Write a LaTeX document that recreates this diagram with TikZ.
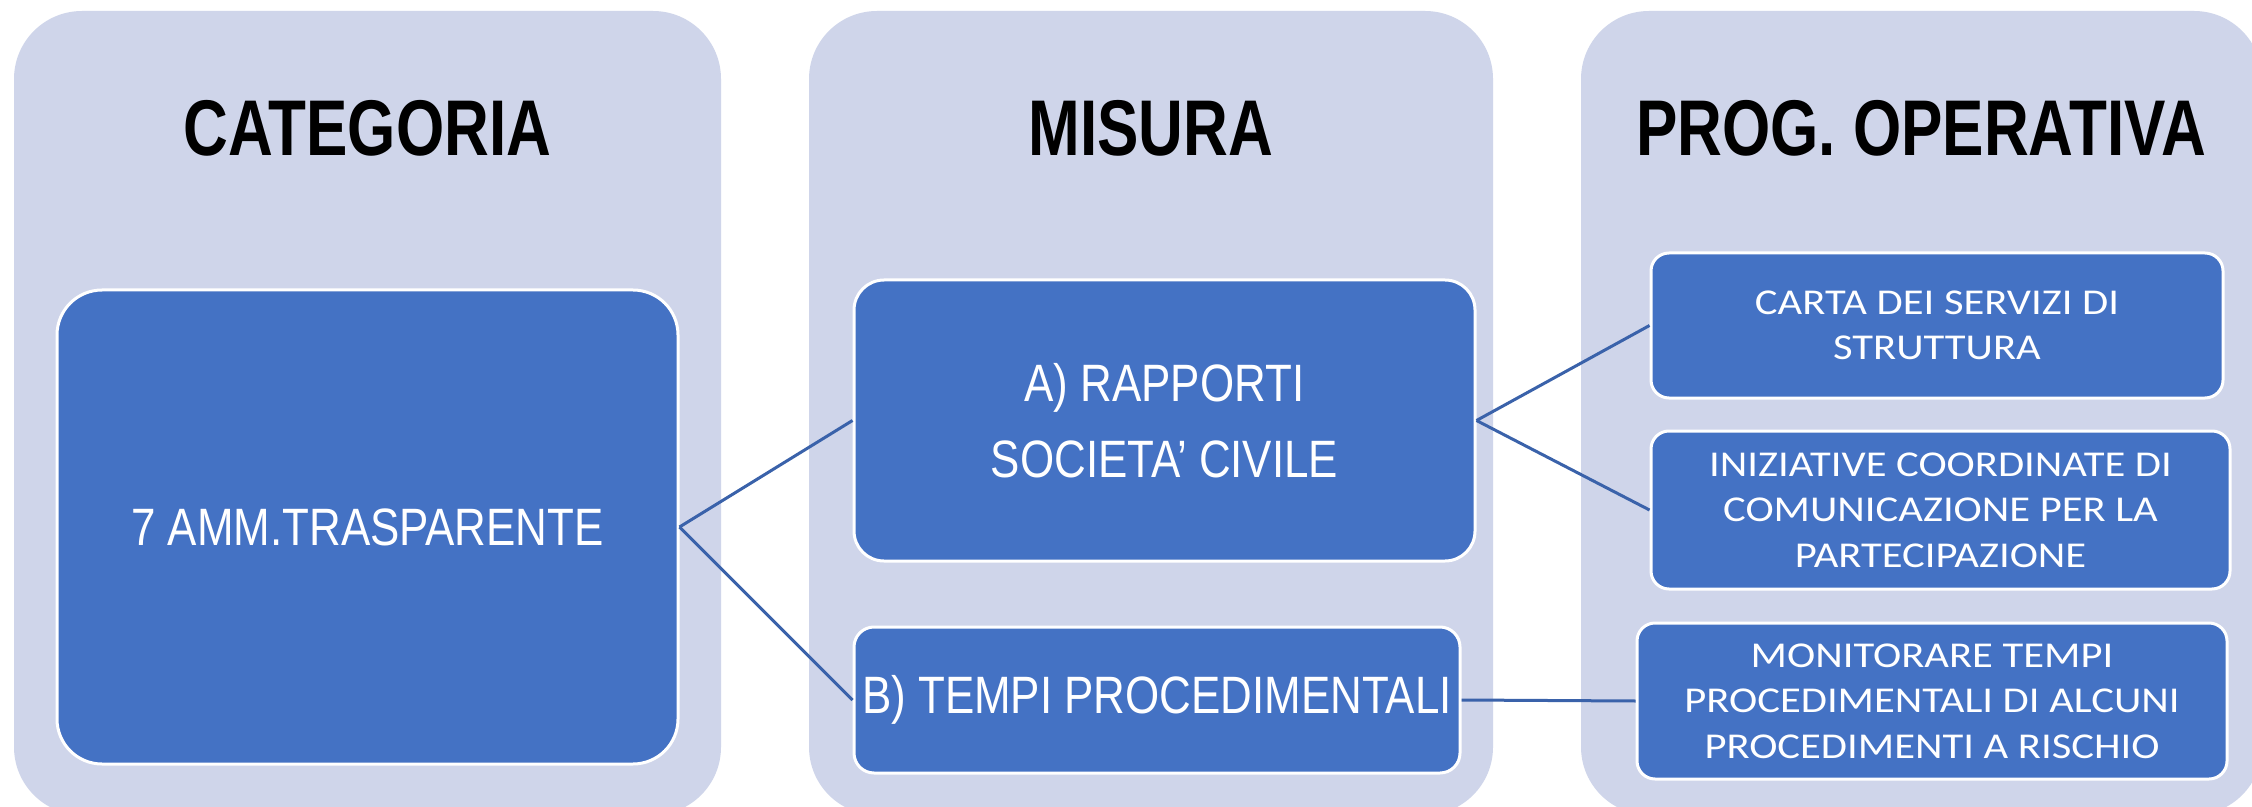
\documentclass[tikz,border=0pt]{standalone}
\usepackage{fontspec}
\setmainfont{Liberation Sans}
\newfontfamily\hdrfont{Liberation Sans}[FakeStretch=0.785]
\newfontfamily\boxfont{Liberation Sans}[FakeStretch=0.835]
\newfontfamily\rightfont{Carlito}[FakeStretch=1.17]
\definecolor{colbg}{HTML}{CFD5EA}
\definecolor{boxblue}{HTML}{4472C4}
\definecolor{linkblue}{HTML}{3A62AA}
\tikzset{
  colbox/.style={fill=colbg, draw=none},
  hdr/.style={inner sep=0pt, text=black, font=\hdrfont\bfseries\fontsize{39.5}{47}\selectfont},
  bluebox/.style={fill=boxblue, draw=white, line width=1.5pt, text=white, align=center, inner sep=0pt},
  midtext/.style={font=\boxfont\fontsize{26.3}{38}\selectfont},
  righttext/.style={font=\rightfont\fontsize{18.2}{22.75}\selectfont},
  link/.style={draw=linkblue, line width=1.5pt}
}
\begin{document}
\begin{tikzpicture}[x=0.5pt, y=-0.5pt]
\clip (0,0) rectangle (2252,807);
\fill[white] (0,0) rectangle (2252,807);
% columns
\path[colbox, rounded corners=34pt] (14,11) rectangle (721,815);
\path[colbox, rounded corners=34pt] (809,11) rectangle (1493,815);
\path[colbox, rounded corners=34pt] (1581,11) rectangle (2262,815);
% headers
\node[hdr] (h1) at (367.5,128.5) {CATEGORIA};
\node[hdr] (h2) at (1151,128.5) {MISURA};
\node[hdr] (h3) at (1921,128.5) {PROG. OPERATIVA};
% boxes
\node[bluebox, midtext, rounded corners=22.5pt, minimum width=310.5pt, minimum height=237pt] (cat) at (367.5,527) {7 AMM.TRASPARENTE};
\node[bluebox, midtext, rounded corners=15pt, minimum width=310.5pt, minimum height=140.5pt] (ma) at (1164.5,420.5) {A) RAPPORTI\\SOCIETA’ CIVILE};
\node[bluebox, midtext, rounded corners=10pt, minimum width=303pt, minimum height=73pt] (mb) at (1157,700) {B) TEMPI PROCEDIMENTALI};
\node[bluebox, righttext, rounded corners=9pt, minimum width=286pt, minimum height=72.5pt] (c1) at (1937,325.5) {CARTA DEI SERVIZI DI\\STRUTTURA};
\node[bluebox, righttext, rounded corners=9pt, minimum width=289.5pt, minimum height=79pt] (c2) at (1940.5,510) {INIZIATIVE COORDINATE DI\\COMUNICAZIONE PER LA\\PARTECIPAZIONE};
\node[bluebox, righttext, rounded corners=9pt, minimum width=295pt, minimum height=78pt] (c3) at (1932,701) {MONITORARE TEMPI\\PROCEDIMENTALI DI ALCUNI\\PROCEDIMENTI A RISCHIO};
% connectors
\draw[link] (cat.east) -- (ma.west);
\draw[link] (cat.east) -- (mb.west);
\draw[link] (ma.east) -- (c1.west);
\draw[link] (ma.east) -- (c2.west);
\draw[link] (mb.east) -- (c3.west);
\end{tikzpicture}
\end{document}
